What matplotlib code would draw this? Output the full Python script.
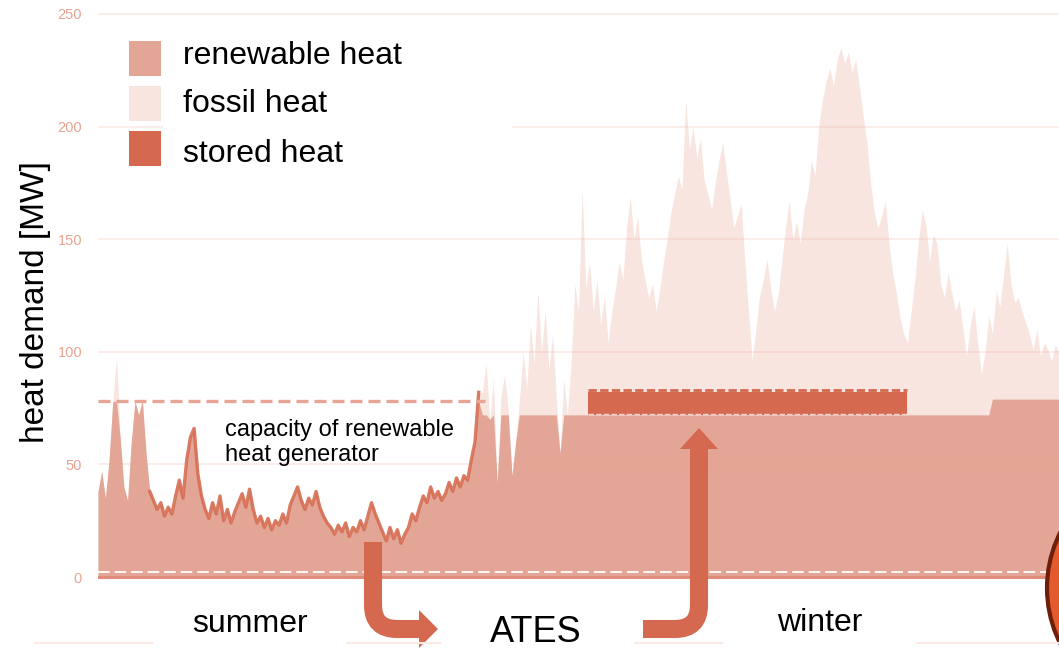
import numpy as np
import matplotlib.pyplot as plt
from matplotlib.patches import Rectangle, Polygon, PathPatch, Circle
from matplotlib.path import Path

plt.rcParams['font.family'] = ['Liberation Sans', 'DejaVu Sans']

# daily heat demand [MW], day 0 = start of summer
summer_demand = [38, 47, 35, 52, 78, 98, 62, 40, 34, 60,
                 78, 72, 80, 55, 38, 34, 30, 33, 27, 31,
                 28, 36, 43, 35, 52, 62, 66, 46, 36, 30,
                 26, 33, 28, 36, 25, 30, 24, 29, 33, 37,
                 31, 39, 30, 24, 27, 22, 26, 21, 25, 23,
                 28, 24, 32, 36, 40, 34, 30, 35, 32, 38,
                 31, 27, 24, 22, 19, 23, 20, 24, 18, 22,
                 20, 25, 21, 27, 33, 28, 24, 20, 16, 22,
                 17, 21, 15, 19, 22, 28, 25, 31, 36, 33,
                 40, 35, 38, 34, 37, 42, 38, 44, 40, 45,
                 43, 52, 60, 82]
winter_demand = [82, 95, 70, 88, 42, 80, 90, 74, 45, 60,
                 78, 100, 84, 112, 95, 127, 100, 118, 92, 108,
                 80, 55, 88, 72, 95, 130, 118, 172, 128, 140,
                 118, 132, 112, 125, 104, 118, 128, 140, 132, 155,
                 169, 150, 160, 141, 132, 124, 130, 118, 128, 140,
                 150, 162, 170, 178, 172, 212, 190, 200, 186, 195,
                 176, 170, 163, 175, 185, 193, 180, 168, 155, 160,
                 166, 140, 118, 96, 110, 125, 132, 141, 128, 118,
                 125, 140, 155, 167, 150, 158, 148, 163, 170, 185,
                 178, 200, 212, 220, 226, 218, 230, 235, 228, 233,
                 224, 230, 218, 205, 193, 175, 162, 155, 160, 167,
                 148, 135, 126, 115, 108, 104, 118, 132, 150, 163,
                 156, 140, 152, 148, 130, 124, 135, 126, 118, 123,
                 110, 98, 112, 120, 104, 90, 100, 116, 108, 127,
                 120, 134, 148, 130, 122, 124, 118, 113, 108, 101,
                 110, 98, 104, 101, 96, 103, 100]

# renewable output limit per period: (first day, last day, MW)
renewable_limits = [(0, 103, 78), (104, 241, 72), (242, 260, 79)]
capacity_mw = 78
capacity_days = [0, 104.7]
summer_line_days = [14, 103]   # where the dark demand trace is drawn
stored_days = [132.5, 218.8]
stored_mw = [72, 82]
yticks = [0, 50, 100, 150, 200, 250]

c_renew = '#e3a696'
c_fossil = '#f8e5e0'
c_stored = '#d4694f'
c_tick = '#e9a392'

demand = np.array(summer_demand + winter_demand, dtype=float)
days = np.arange(len(demand))
cap = np.zeros(len(demand))
for a, b, v in renewable_limits:
    cap[a:b + 1] = v
renewable = np.minimum(demand, cap)

fig = plt.figure(figsize=(10.59, 6.48), dpi=100)
ax = fig.add_axes([98 / 1059, 0.0748, 1 - 98 / 1059, 0.921])

ax.fill_between(days, 0, demand, color=c_fossil, lw=0, zorder=1)
ax.fill_between(days, 0, renewable, color=c_renew, lw=0, zorder=2)
for t in yticks[1:]:
    ax.axhline(t, color='#e8a090', alpha=0.22, lw=1.2, zorder=2.5)

# dark demand trace in summer
m = (days >= summer_line_days[0]) & (days <= summer_line_days[1])
ax.plot(days[m], demand[m], color='#d66d53', lw=2.4, alpha=0.9, zorder=3)

# capacity of renewable generator
ax.plot(capacity_days, [capacity_mw, capacity_mw], color='#e8a595', lw=2.4,
        dashes=(3.6, 1.8), zorder=3)

# stored heat block
ax.fill_between(stored_days, stored_mw[0], stored_mw[1], color=c_stored, lw=0, zorder=4)
ax.plot(stored_days, [stored_mw[1] + 1, stored_mw[1] + 1], color=c_stored, lw=2,
        dashes=(3, 1.2), zorder=4)
ax.plot(stored_days, [stored_mw[0] + 0.6] * 2, color='white', lw=1.0,
        dashes=(4, 1.5), alpha=0.7, zorder=4)

# base lines
ax.axhline(0, color='#e08c78', lw=2.2, zorder=4)
ax.axhline(2.4, color='white', lw=1.4, dashes=(6, 2.5), alpha=0.9, zorder=4)

ax.set_xlim(0, 260)
ax.set_ylim(-10, 255)
ax.set_yticks(yticks)
ax.set_xticks([])
ax.tick_params(axis='y', length=0, pad=11.5, labelcolor=c_tick, labelsize=10.5)
for s in ax.spines.values():
    s.set_visible(False)

# overlay in pixel coordinates for legend, labels and arrows
ov = fig.add_axes([0, 0, 1, 1], zorder=5)
ov.patch.set_alpha(0)
ov.set_xlim(0, 1059)
ov.set_ylim(648, 0)
ov.axis('off')

ov.add_patch(Rectangle((163, 22), 349, 156, color='white', lw=0))
legend_items = [('renewable heat', c_renew, 41, 64),
                ('fossil heat', c_fossil, 86, 112),
                ('stored heat', c_stored, 131, 162)]
for name, col, top, base in legend_items:
    ov.add_patch(Rectangle((129, top), 32, 35, color=col, lw=0))
    ov.text(183, base, name, fontsize=23, va='baseline', ha='left')

ov.text(36, 302, 'heat demand [MW]', fontsize=24, rotation=90, ha='center', va='center')
ov.text(225, 461, 'capacity of renewable\nheat generator', fontsize=17,
        va='baseline', ha='left', linespacing=1.2)

for x0, x1 in [(35, 152), (347, 440), (635, 722), (917, 1059)]:
    ov.plot([x0, x1], [643, 643], color='#fbe9e5', lw=1.5)
ov.text(192, 632, 'summer', fontsize=23, va='baseline')
ov.text(490, 642, 'ATES', fontsize=26, va='baseline')
ov.text(777, 631, 'winter', fontsize=23, va='baseline')

# arrows into and out of the ATES
p1 = Path([(373, 542), (373, 605), (373, 629), (397, 629), (421, 629)],
          [Path.MOVETO, Path.LINETO, Path.CURVE3, Path.CURVE3, Path.LINETO])
ov.add_patch(PathPatch(p1, fill=False, ec=c_stored, lw=13, capstyle='butt'))
ov.add_patch(Polygon([(419, 610), (438, 629), (419, 648)], color=c_stored, lw=0))
p2 = Path([(643, 629), (675, 629), (699, 629), (699, 605), (699, 447)],
          [Path.MOVETO, Path.LINETO, Path.CURVE3, Path.CURVE3, Path.LINETO])
ov.add_patch(PathPatch(p2, fill=False, ec=c_stored, lw=13, capstyle='butt'))
ov.add_patch(Polygon([(680, 449), (699, 428), (718, 449)], color=c_stored, lw=0))

ov.add_patch(Circle((1170, 588), 123, fc='#e35a2c', ec='#6e1f0c', lw=3, clip_on=False))

fig.savefig('out.png', dpi=100, facecolor='white')
